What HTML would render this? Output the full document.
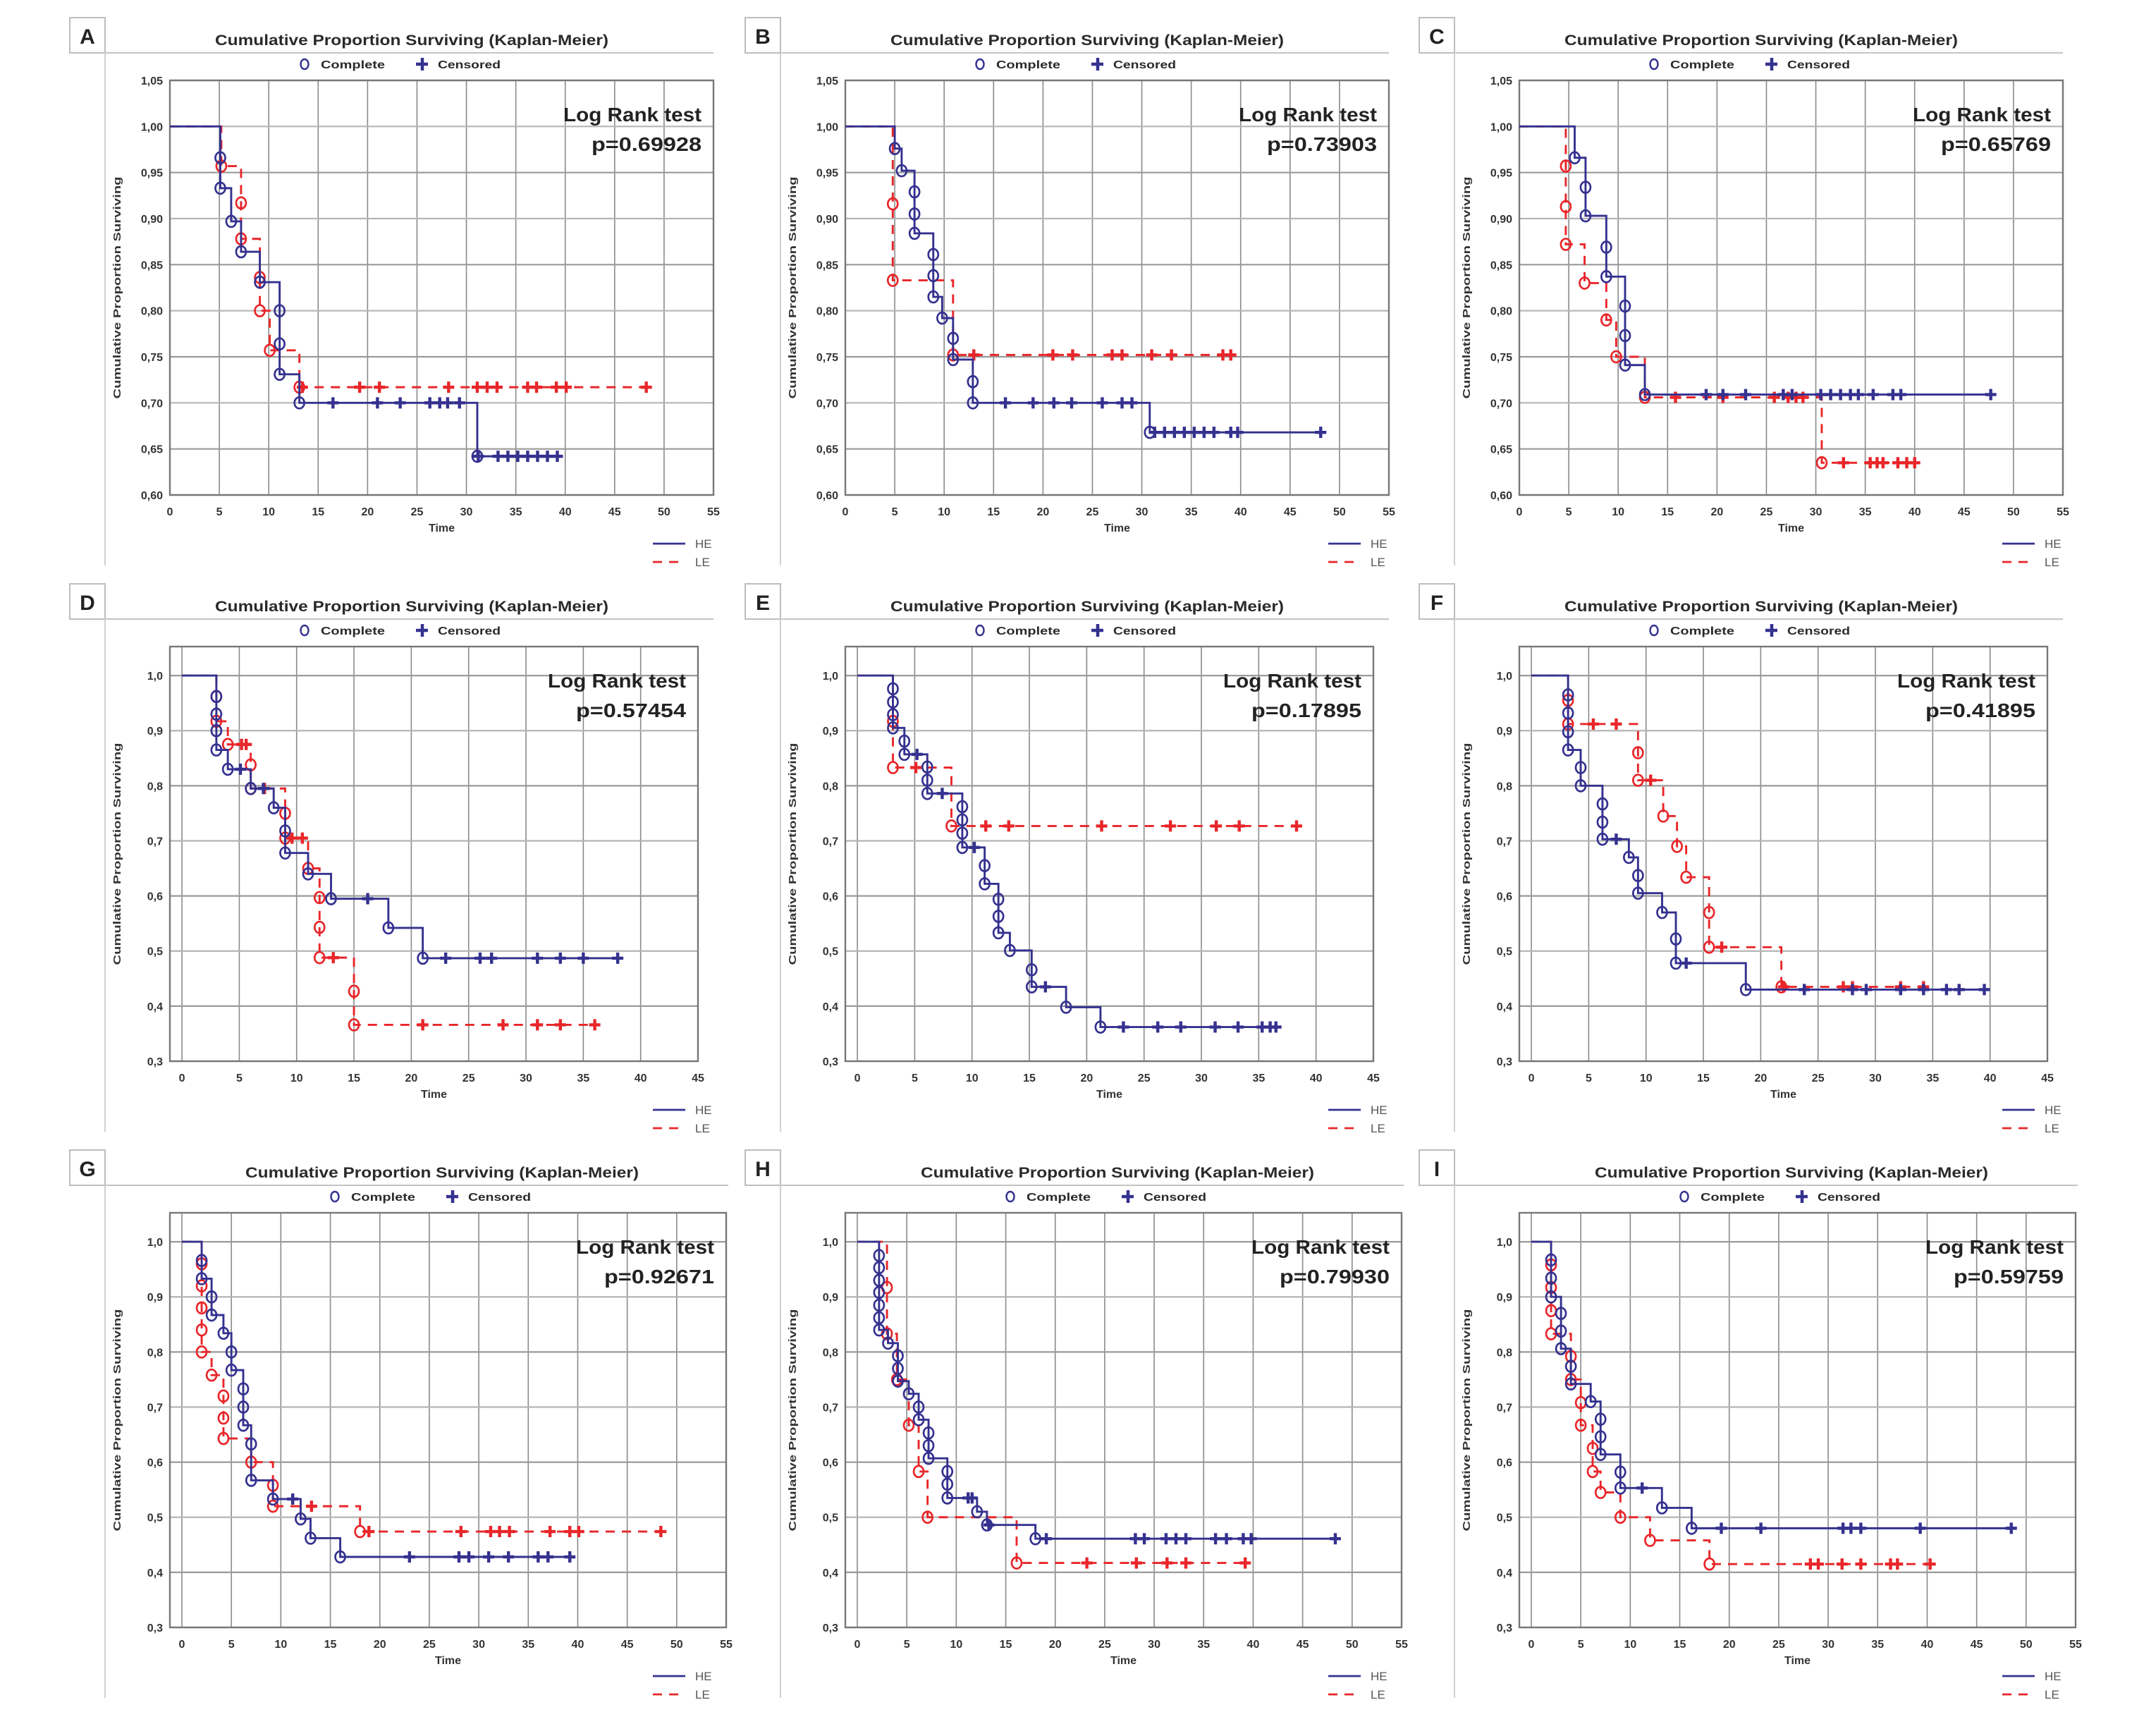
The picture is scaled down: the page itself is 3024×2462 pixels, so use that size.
<!DOCTYPE html>
<html><head><meta charset="utf-8"><title>Kaplan-Meier panels</title>
<style>
html,body{margin:0;padding:0;background:#fff;}
svg{display:block;}
text{font-family:"Liberation Sans",sans-serif;}
</style></head>
<body>
<svg id="fig" xmlns="http://www.w3.org/2000/svg" width="3024" height="2462" viewBox="0 0 3024 2462"></svg>
<script>
// ---- Data: complete-event times (dt), survival after event (ds), censored times (ct) ----
const pValues = ["p=0.69928","p=0.73903","p=0.65769","p=0.57454","p=0.17895","p=0.41895","p=0.92671","p=0.79930","p=0.59759"];
const panelLetters = ["A","B","C","D","E","F","G","H","I"];

const A_HE_dt = [5.1,5.1,6.2,7.2,9.1,11.1,11.1,11.1,13.1,31.1];
const A_HE_ds = [0.966,0.933,0.897,0.864,0.831,0.80,0.764,0.731,0.70,0.642];
const A_HE_ct = [16.5,21,23.3,26.3,27.3,28.1,29.3,31.2,33.2,34.2,35.2,36.2,37.2,38.2,39.2];
const A_LE_dt = [5.2,7.2,7.2,9.1,9.1,10.1,13.1];
const A_LE_ds = [0.957,0.917,0.878,0.836,0.80,0.757,0.717];
const A_LE_ct = [13.4,19.2,21.2,28.2,31.1,32.1,33.1,36.2,37.1,39.1,40.1,48.2];

const B_HE_dt = [5,5.7,7,7,7,8.9,8.9,8.9,9.8,10.9,10.9,12.9,12.9,30.8];
const B_HE_ds = [0.976,0.952,0.929,0.905,0.884,0.861,0.838,0.815,0.792,0.770,0.747,0.723,0.70,0.668];
const B_HE_ct = [16.2,19,21.1,22.9,26,28,29,31.3,32.3,33.3,34.3,35.3,36.3,37.3,39,39.7,48.1];
const B_LE_dt = [4.8,4.8,10.9];
const B_LE_ds = [0.916,0.833,0.752];
const B_LE_ct = [13,21,23,27,28,31,33,38.2,39];

const C_HE_dt = [5.6,6.7,6.7,8.8,8.8,10.7,10.7,10.7,12.7];
const C_HE_ds = [0.966,0.934,0.903,0.869,0.837,0.805,0.773,0.741,0.709];
const C_HE_ct = [18.9,20.6,22.9,26.7,27.6,30.5,31.5,32.5,33.5,34.3,35.8,37.8,38.6,47.7];
const C_LE_dt = [4.7,4.7,4.7,6.6,8.8,9.8,12.7,30.6];
const C_LE_ds = [0.957,0.913,0.872,0.83,0.79,0.75,0.706,0.635];
const C_LE_ct = [15.8,20.6,25.8,27.2,28,28.7,32.8,35.5,36.2,36.8,38.3,39.2,40];

const D_HE_dt = [3,3,3,3,4,6,8,9,9,11,13,18,21];
const D_HE_ds = [0.962,0.93,0.90,0.865,0.83,0.795,0.76,0.718,0.678,0.64,0.595,0.542,0.487];
const D_HE_ct = [5.1,7.1,16.2,23,26,27,31,33,35,38];
const D_LE_dt = [3,3,4,6,6,9,9,11,12,12,12,15,15];
const D_LE_ds = [0.962,0.917,0.875,0.838,0.795,0.75,0.705,0.65,0.597,0.543,0.488,0.427,0.366];
const D_LE_ct = [5.2,5.6,7.2,9.6,10.5,13.2,21,28,31,33,36];

const E_HE_dt = [3.1,3.1,3.1,3.1,4.1,4.1,6.1,6.1,6.1,9.15,9.15,9.15,9.15,11.1,11.1,12.3,12.3,12.3,13.3,15.2,15.2,18.2,21.2];
const E_HE_ds = [0.976,0.952,0.929,0.905,0.881,0.857,0.834,0.81,0.786,0.762,0.738,0.714,0.688,0.655,0.622,0.594,0.563,0.533,0.501,0.466,0.435,0.398,0.362];
const E_HE_ct = [5.2,7.4,10.2,16.4,23.2,26.2,28.2,31.2,33.2,35.3,36.0,36.5];
const E_LE_dt = [3.1,3.1,8.2];
const E_LE_ds = [0.917,0.833,0.727];
const E_LE_ct = [5.1,11.2,13.2,21.3,27.3,31.3,33.3,38.3];

const F_HE_dt = [3.2,3.2,3.2,3.2,4.3,4.3,6.2,6.2,6.2,8.5,9.3,9.3,11.4,12.6,12.6,18.7];
const F_HE_ds = [0.965,0.932,0.898,0.865,0.833,0.80,0.767,0.734,0.703,0.670,0.637,0.605,0.570,0.522,0.478,0.43];
const F_HE_ct = [7.4,13.5,23.8,28.0,29.2,32.2,34.2,36.2,37.3,39.5];
const F_LE_dt = [3.2,3.2,9.3,9.3,11.5,12.7,13.5,15.5,15.5,21.8];
const F_LE_ds = [0.955,0.912,0.86,0.81,0.745,0.69,0.634,0.57,0.507,0.435];
const F_LE_ct = [5.4,7.4,10.4,16.6,22,27.2,28,32.2,34.2];

const G_HE_dt = [2,2,3,3,4.2,5,5,6.2,6.2,6.2,7,7,9.2,12,13,16];
const G_HE_ds = [0.966,0.933,0.90,0.867,0.834,0.80,0.767,0.733,0.70,0.667,0.633,0.567,0.533,0.497,0.462,0.428];
const G_HE_ct = [11.2,23,28,29,31,33,36,37,39.2];
const G_LE_dt = [2,2,2,2,2,3,4.2,4.2,4.2,7,9.2,9.2,18];
const G_LE_ds = [0.96,0.92,0.88,0.84,0.80,0.758,0.72,0.68,0.643,0.60,0.558,0.52,0.474];
const G_LE_ct = [13.1,18.9,28.2,31.2,32.1,33.1,37.2,39.2,40.1,48.4];

const H_HE_dt = [2.2,2.2,2.2,2.2,2.2,2.2,2.2,3.1,4.1,4.1,4.1,5.2,6.2,6.2,7.2,7.2,7.2,9.1,9.1,9.1,12.1,13.1,18];
const H_HE_ds = [0.975,0.953,0.93,0.908,0.885,0.862,0.84,0.816,0.793,0.77,0.747,0.724,0.70,0.677,0.653,0.63,0.607,0.583,0.56,0.535,0.51,0.486,0.461];
const H_HE_ct = [11.2,11.6,13.3,19.1,28.1,29,31.2,32.2,33.2,36.2,37.3,39,39.8,48.3];
const H_LE_dt = [3,3,4,5.2,6.2,7.1,16.1];
const H_LE_ds = [0.917,0.833,0.75,0.667,0.583,0.50,0.417];
const H_LE_ct = [23.2,28.2,31.3,33.2,39.2];

const I_HE_dt = [2,2,2,3,3,3,4,4,6,7,7,7,9,9,13.2,16.2];
const I_HE_ds = [0.967,0.934,0.90,0.87,0.838,0.806,0.774,0.742,0.71,0.678,0.646,0.614,0.582,0.553,0.517,0.48];
const I_HE_ct = [11.2,19.2,23.2,31.5,32.3,33.3,39.3,48.5];
const I_LE_dt = [2,2,2,2,4,4,5,5,6.2,6.2,7,9,12,18];
const I_LE_ds = [0.958,0.917,0.875,0.833,0.792,0.75,0.708,0.667,0.625,0.583,0.545,0.50,0.458,0.415];
const I_LE_ct = [28.2,29,31.4,33.3,36.3,37,40.3];

const row1YTicks = ["0,60","0,65","0,70","0,75","0,80","0,85","0,90","0,95","1,00","1,05"];
const row1YVals = [0.60,0.65,0.70,0.75,0.80,0.85,0.90,0.95,1.00,1.05];
const lowYTicks = ["0,3","0,4","0,5","0,6","0,7","0,8","0,9","1,0"];
const lowYVals = [0.3,0.4,0.5,0.6,0.7,0.8,0.9,1.0];
const xTicks55 = [0,5,10,15,20,25,30,35,40,45,50,55];
const xTicks45 = [0,5,10,15,20,25,30,35,40,45];

const panelHE = [[A_HE_dt,A_HE_ds,A_HE_ct],[B_HE_dt,B_HE_ds,B_HE_ct],[C_HE_dt,C_HE_ds,C_HE_ct],[D_HE_dt,D_HE_ds,D_HE_ct],[E_HE_dt,E_HE_ds,E_HE_ct],[F_HE_dt,F_HE_ds,F_HE_ct],[G_HE_dt,G_HE_ds,G_HE_ct],[H_HE_dt,H_HE_ds,H_HE_ct],[I_HE_dt,I_HE_ds,I_HE_ct]];
const panelLE = [[A_LE_dt,A_LE_ds,A_LE_ct],[B_LE_dt,B_LE_ds,B_LE_ct],[C_LE_dt,C_LE_ds,C_LE_ct],[D_LE_dt,D_LE_ds,D_LE_ct],[E_LE_dt,E_LE_ds,E_LE_ct],[F_LE_dt,F_LE_ds,F_LE_ct],[G_LE_dt,G_LE_ds,G_LE_ct],[H_LE_dt,H_LE_ds,H_LE_ct],[I_LE_dt,I_LE_ds,I_LE_ct]];

// ---- layout ----
const NS = "http://www.w3.org/2000/svg";
const svg = document.getElementById("fig");
const colX = [98,1056,2012];
const rowY = [24,827,1630];
const BLUE = "#34318f", RED = "#e8262a", GRID = "#8a8a8a", TXT = "#2a2a2a";

function mk(tag, attrs, parent, txt){
  const e = document.createElementNS(NS, tag);
  for (const k in attrs) e.setAttribute(k, attrs[k]);
  if (txt !== undefined) e.textContent = txt;
  (parent||svg).appendChild(e);
  return e;
}

const rowCfg = [
  {right:914, xmin:0, xmax:55, ymin:0.60, ymax:1.05, yt:row1YTicks, yv:row1YVals, xt:xTicks55, shift:0, lineEnd:914},
  {right:892, xmin:-1.05, xmax:45, ymin:0.3, ymax:1.0526, yt:lowYTicks, yv:lowYVals, xt:xTicks45, shift:0, lineEnd:914},
  {right:932, xmin:-1.21, xmax:55, ymin:0.3, ymax:1.0526, yt:lowYTicks, yv:lowYVals, xt:xTicks55, shift:43, lineEnd:935}
];

function survAt(dt, ds, t){
  let s = 1;
  for (let i=0;i<dt.length;i++){ if (dt[i] <= t) s = ds[i]; }
  return s;
}

function drawGroup(g, X, Y, dt, ds, ct, color, dashed, name){
  let d = "M"+X(0)+","+Y(1);
  let cur = 1;
  for (let i=0;i<dt.length;i++){
    d += " L"+X(dt[i])+","+Y(cur)+" L"+X(dt[i])+","+Y(ds[i]);
    cur = ds[i];
  }
  const tEnd = Math.max(dt.length?dt[dt.length-1]:0, ct.length?Math.max.apply(null,ct):0);
  d += " L"+X(tEnd)+","+Y(cur);
  const line = mk("path",{d:d,fill:"none",stroke:color,"stroke-width":2.9,"stroke-dasharray":dashed?"13,10":"none"},g);
  
  
  for (let i=0;i<dt.length;i++){
    const c = mk("ellipse",{cx:X(dt[i]),cy:Y(ds[i]),rx:7,ry:8,fill:"none",stroke:color,"stroke-width":2.7},g);
    
    
  }
  for (let i=0;i<ct.length;i++){
    const x = X(ct[i]), y = Y(survAt(dt,ds,ct[i]));
    const p = mk("path",{d:"M"+(x-8)+","+y+" L"+(x+8)+","+y+" M"+x+","+(y-8)+" L"+x+","+(y+8),stroke:color,"stroke-width":4.4,fill:"none"},g);
    
    
  }
}

for (let p=0;p<9;p++){
  const r = Math.floor(p/3), c = p%3;
  const cfg = rowCfg[r];
  const bx = colX[c], by = rowY[r];
  const g = mk("g",{transform:"translate("+bx+","+by+")"});
  
  

  const box = mk("rect",{x:1,y:1,width:50,height:50,fill:"#fff",stroke:"#bdbdbd","stroke-width":2},g);
  
  
  const lt = mk("text",{x:26,y:38,"text-anchor":"middle","font-size":30,"font-weight":"bold",fill:"#222"},g,panelLetters[p]);
  
  
  mk("line",{x1:51,y1:51,x2:cfg.lineEnd,y2:51,stroke:"#c4c4c4","stroke-width":2},g);
  mk("line",{x1:51,y1:51,x2:51,y2:778,stroke:"#d0d0d0","stroke-width":2},g);

  const tc = 486 + cfg.shift;
  const title = mk("text",{x:tc,y:40,"text-anchor":"middle","font-size":21,"font-weight":"bold",fill:TXT,textLength:558,lengthAdjust:"spacingAndGlyphs"},g,"Cumulative Proportion Surviving (Kaplan-Meier)");
  
  

  const lg = mk("g",{transform:"translate("+cfg.shift+",0)"},g);
  
  
  mk("ellipse",{cx:334,cy:67,rx:5.5,ry:7,fill:"none",stroke:BLUE,"stroke-width":2.4},lg);
  mk("text",{x:357,y:73,"font-size":16,"font-weight":"bold",fill:TXT,textLength:91,lengthAdjust:"spacingAndGlyphs"},lg,"Complete");
  mk("path",{d:"M492,67 L509,67 M501,58 L501,76",stroke:BLUE,"stroke-width":4.5,fill:"none"},lg);
  mk("text",{x:523,y:73,"font-size":16,"font-weight":"bold",fill:TXT,textLength:89,lengthAdjust:"spacingAndGlyphs"},lg,"Censored");

  const L = 143, R = cfg.right, T = 90, B = 678;
  const X = t => L + (t - cfg.xmin) / (cfg.xmax - cfg.xmin) * (R - L);
  const Y = v => B - (v - cfg.ymin) / (cfg.ymax - cfg.ymin) * (B - T);

  const grid = mk("g",{},g);
  
  
  for (let i=0;i<cfg.xt.length;i++){
    mk("line",{x1:X(cfg.xt[i]),y1:T,x2:X(cfg.xt[i]),y2:B,stroke:GRID,"stroke-width":1.6},grid);
    const tl = mk("text",{x:X(cfg.xt[i]),y:707,"text-anchor":"middle","font-size":16,"font-weight":"bold",fill:"#333"},g,String(cfg.xt[i]));
    
    
  }
  for (let i=0;i<cfg.yv.length;i++){
    mk("line",{x1:L,y1:Y(cfg.yv[i]),x2:R,y2:Y(cfg.yv[i]),stroke:(i%2? "#9a9a9a":"#b5b5b5"),"stroke-width":2.2},grid);
    const tl = mk("text",{x:L-10,y:Y(cfg.yv[i])+6,"text-anchor":"end","font-size":16,"font-weight":"bold",fill:"#333"},g,cfg.yt[i]);
    
    
  }
  const frame = mk("rect",{x:L,y:T,width:R-L,height:B-T,fill:"none",stroke:"#777","stroke-width":2.4},g);
  
  

  const xt = mk("text",{x:(L+R)/2,y:730,"text-anchor":"middle","font-size":16,"font-weight":"bold",fill:"#333"},g,"Time");
  
  
  const yt = mk("text",{x:0,y:0,transform:"translate(73,384) rotate(-90)","text-anchor":"middle","font-size":15,"font-weight":"bold",fill:"#333",textLength:315,lengthAdjust:"spacingAndGlyphs"},g,"Cumulative Proportion Surviving");
  
  

  drawGroup(g, X, Y, panelLE[p][0], panelLE[p][1], panelLE[p][2], RED, true, 'le');
  drawGroup(g, X, Y, panelHE[p][0], panelHE[p][1], panelHE[p][2], BLUE, false, 'he');

  const lr1 = mk("text",{x:R-17,y:148,"text-anchor":"end","font-size":28,"font-weight":"bold",fill:"#222",textLength:196,lengthAdjust:"spacingAndGlyphs"},g,"Log Rank test");
  
  
  const lr2 = mk("text",{x:R-17,y:190,"text-anchor":"end","font-size":28,"font-weight":"bold",fill:"#222",textLength:156,lengthAdjust:"spacingAndGlyphs"},g,pValues[p]);
  
  

  const gl = mk("g",{},g);
  
  
  mk("line",{x1:828,y1:747,x2:874,y2:747,stroke:BLUE,"stroke-width":2.8},gl);
  mk("text",{x:888,y:753,"font-size":17,fill:"#555"},gl,"HE");
  mk("line",{x1:828,y1:773,x2:874,y2:773,stroke:RED,"stroke-width":2.8,"stroke-dasharray":"13,10"},gl);
  mk("text",{x:888,y:779,"font-size":17,fill:"#555"},gl,"LE");
}
</script>
</body></html>
